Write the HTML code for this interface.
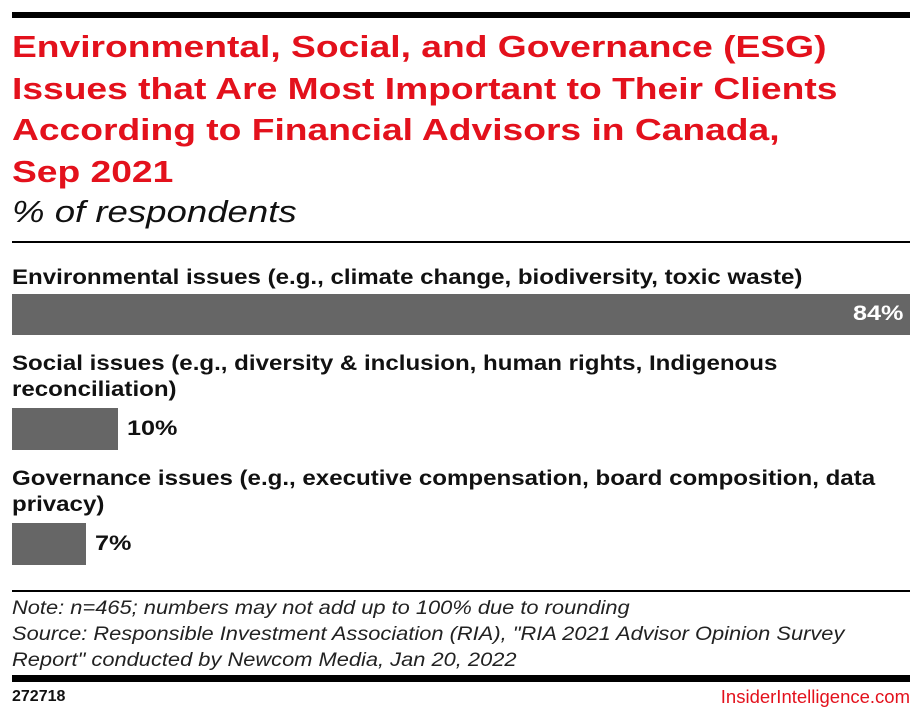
<!DOCTYPE html>
<html><head><style>
body{margin:0;width:922px;height:719px;background:#fff;font-family:"Liberation Sans",sans-serif;position:relative;overflow:hidden}
div{position:absolute;white-space:nowrap}
.t{left:12px;color:#e3111c;font-weight:bold;font-size:31px;line-height:41.5px;top:26px;transform:scaleX(1.2);transform-origin:left top}
.lab{left:12px;font-weight:bold;font-size:21.5px;line-height:26px;color:#111;transform:scaleX(1.12);transform-origin:left top}
.bar{background:#666;left:12px}
.v{font-weight:bold;font-size:21px;color:#111;transform:scaleX(1.2);transform-origin:left top}
.n{left:12px;font-style:italic;font-size:19px;line-height:26px;color:#222;transform:scaleX(1.15);transform-origin:left top}
</style></head><body>
<div style="left:12px;top:12px;width:898px;height:6px;background:#000"></div>
<div class="t">Environmental, Social, and Governance (ESG)<br>Issues that Are Most Important to Their Clients<br>According to Financial Advisors in Canada,<br>Sep 2021</div>
<div style="left:12px;top:194px;font-style:italic;font-size:31px;color:#111;transform:scaleX(1.18);transform-origin:left top">% of respondents</div>
<div style="left:12px;top:241px;width:898px;height:2px;background:#000"></div>
<div class="lab" style="top:264px">Environmental issues (e.g., climate change, biodiversity, toxic waste)</div>
<div class="bar" style="top:294px;width:898px;height:41px"></div>
<div class="v" style="left:853px;top:302px;color:#fff">84%</div>
<div class="lab" style="top:350px">Social issues (e.g., diversity &amp; inclusion, human rights, Indigenous<br>reconciliation)</div>
<div class="bar" style="top:408px;width:106px;height:42px"></div>
<div class="v" style="left:127px;top:417px">10%</div>
<div class="lab" style="top:465px">Governance issues (e.g., executive compensation, board composition, data<br>privacy)</div>
<div class="bar" style="top:523px;width:74px;height:42px"></div>
<div class="v" style="left:95px;top:532px">7%</div>
<div style="left:12px;top:590px;width:898px;height:2px;background:#000"></div>
<div class="n" style="top:596px">Note: n=465; numbers may not add up to 100% due to rounding<br>Source: Responsible Investment Association (RIA), "RIA 2021 Advisor Opinion Survey<br>Report" conducted by Newcom Media, Jan 20, 2022</div>
<div style="left:12px;top:675px;width:898px;height:7px;background:#000"></div>
<div style="left:12px;top:688px;font-weight:bold;font-size:16px;color:#111">272718</div>
<div style="right:12px;top:686px;font-size:18.5px;color:#e3111c">InsiderIntelligence.com</div>
</body></html>
